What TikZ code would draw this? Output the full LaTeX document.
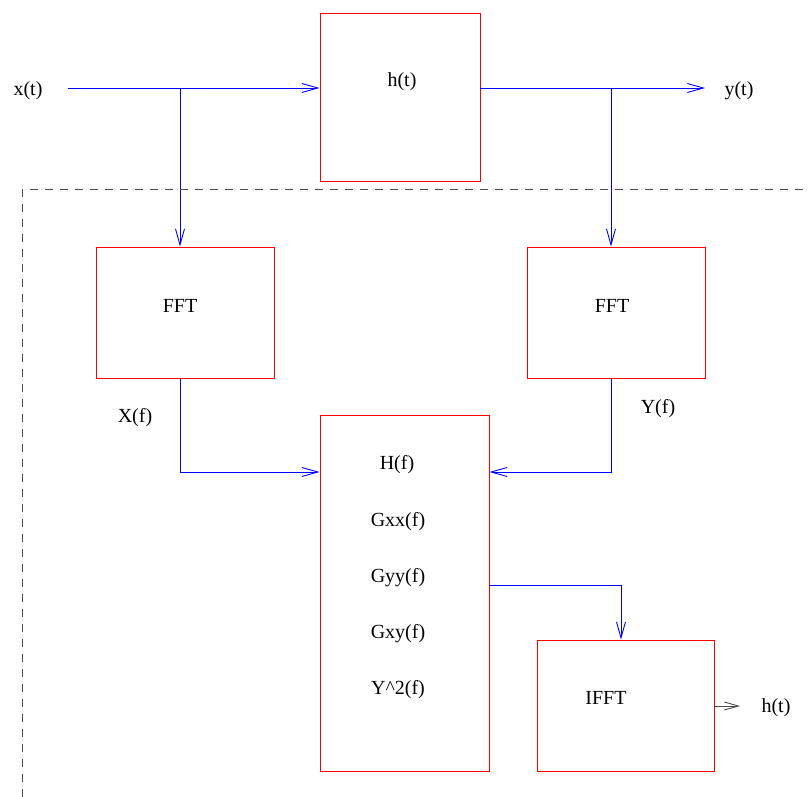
\documentclass[tikz,border=0pt]{standalone}
\usepackage{fontspec}
\setmainfont{Liberation Serif}
\usetikzlibrary{arrows.meta}
\begin{document}
\begin{tikzpicture}[x=1pt,y=-1pt,
  box/.style={draw=red,line width=0.9pt,minimum width=#1,inner sep=0pt},
  lbl/.style={font=\fontsize{20}{24}\selectfont,inner sep=0pt},
  sig/.style={draw=blue,line width=0.9pt,-{Straight Barb[length=16pt,width=9pt,line width=0.9pt]}},
  wire/.style={draw=blue,line width=0.9pt},
  frame/.style={draw=black!70,line width=1pt,dash pattern=on 8pt off 7pt}]
\useasboundingbox (0,0) rectangle (809,797);
% boxes
\node[box=160pt,minimum height=168pt] (hb) at (400,97) {};
\node[box=178pt,minimum height=131pt] (f1) at (185,312.5) {};
\node[box=178pt,minimum height=131pt] (f2) at (616,312.5) {};
\node[box=169pt,minimum height=356pt] (mid) at (404.5,593) {};
\node[box=177pt,minimum height=131pt] (ifft) at (625.5,705.5) {};
% texts
\node[lbl] (xt) at (28,91) {x(t)};
\node[lbl] (yt) at (739,91) {y(t)};
\node[lbl] (ht) at (402,82) {h(t)};
\node[lbl] (fft1) at (180,306) {FFT};
\node[lbl] (fft2) at (612,306) {FFT};
\node[lbl] (Xf) at (135,418) {X(f)};
\node[lbl] (Yf) at (658,409) {Y(f)};
\node[lbl] (Hf) at (397,465) {H(f)};
\node[lbl] (Gxx) at (398,522) {Gxx(f)};
\node[lbl] (Gyy) at (398,578) {Gyy(f)};
\node[lbl] (Gxy) at (398,634) {Gxy(f)};
\node[lbl] (Y2) at (398,690) {Y\^{}2(f)};
\node[lbl] (if) at (606,698) {IFFT};
\node[lbl] (hout) at (776,708) {h(t)};
% coordinates
\coordinate (xs) at (68,88);
\coordinate (b1) at (180,88);
\coordinate (b2) at (611,88);
\coordinate (ye) at (705,88);
\coordinate (c1) at (180,472);
\coordinate (c2) at (611,472);
\coordinate (m1) at (489,585);
\coordinate (m2) at (621,585);
\coordinate (ho) at (740,706);
% signals
\draw[sig] (xs) -- (xs -| hb.west);
\draw[sig] (b1) -- (b1 |- f1.north);
\draw[sig] (hb.east |- ye) -- (ye);
\draw[sig] (b2) -- (b2 |- f2.north);
\draw[sig] (f1.south -| c1) -- (c1) -- (c1 -| mid.west);
\draw[sig] (f2.south -| c2) -- (c2) -- (c2 -| mid.east);
\draw[sig] (m1) -- (m2) -- (m2 |- ifft.north);
\draw[line width=0.9pt,draw=black!70,-{Straight Barb[length=14pt,width=8pt,line width=0.9pt]}] (ifft.east |- ho) -- (ho);
% frame
\coordinate (d1) at (22,797);
\coordinate (d2) at (22,190);
\coordinate (d3) at (809,190);
\draw[frame] (d1) -- (d2) -- (d3);
\end{tikzpicture}
\end{document}
